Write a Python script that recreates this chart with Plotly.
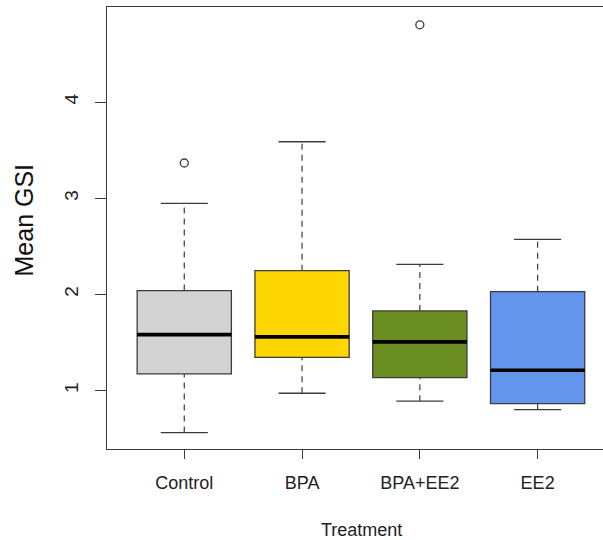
import plotly.graph_objects as go

# ---- data ----
categories = ["Control", "BPA", "BPA+EE2", "EE2"]
colors = ["#D3D3D3", "#FFD700", "#6B8E23", "#6495ED"]
lower_whisker = [0.563, 0.972, 0.889, 0.802]
q1 = [1.173, 1.346, 1.135, 0.865]
median = [1.582, 1.558, 1.506, 1.211]
q3 = [2.040, 2.247, 1.828, 2.029]
upper_whisker = [2.947, 3.588, 2.313, 2.573]
outlier_pos = [1, 3]
outlier_val = [3.367, 4.805]
y_ticks = [1, 2, 3, 4]

positions = list(range(1, len(categories) + 1))
BOXW = 0.8
LINE = "#3c3c3c"
FONT = "Liberation Sans, Arial, sans-serif"

fig = go.Figure()

# dashed whiskers
wx, wy = [], []
for p, lo, a, b, hi in zip(positions, lower_whisker, q1, q3, upper_whisker):
    wx += [p, p, None, p, p, None]
    wy += [lo, a, None, b, hi, None]
fig.add_trace(go.Scatter(x=wx, y=wy, mode="lines",
                         line=dict(color=LINE, width=1.2, dash="6px,5px"),
                         hoverinfo="skip", showlegend=False))
# whisker caps
cx, cy = [], []
for p, lo, hi in zip(positions, lower_whisker, upper_whisker):
    cx += [p - BOXW / 4, p + BOXW / 4, None, p - BOXW / 4, p + BOXW / 4, None]
    cy += [lo, lo, None, hi, hi, None]
fig.add_trace(go.Scatter(x=cx, y=cy, mode="lines",
                         line=dict(color=LINE, width=1.3),
                         hoverinfo="skip", showlegend=False))

# boxes
for p, name, c, a, m, b in zip(positions, categories, colors, q1, median, q3):
    fig.add_trace(go.Box(x=[p], q1=[a], median=[m], q3=[b],
                         lowerfence=[a], upperfence=[b],
                         width=BOXW, whiskerwidth=0, fillcolor=c,
                         line=dict(color=LINE, width=1.3),
                         name=name, showlegend=False, boxpoints=False))

# thick medians
mx, my = [], []
for p, m in zip(positions, median):
    mx += [p - BOXW / 2, p + BOXW / 2, None]
    my += [m, m, None]
fig.add_trace(go.Scatter(x=mx, y=my, mode="lines",
                         line=dict(color="black", width=3.7),
                         hoverinfo="skip", showlegend=False))

# outliers
fig.add_trace(go.Scatter(x=outlier_pos, y=outlier_val, mode="markers",
                         marker=dict(symbol="circle-open", size=8,
                                     color=LINE, line=dict(width=1.3)),
                         hoverinfo="skip", showlegend=False))

fig.update_layout(
    width=603, height=540,
    margin=dict(l=107, r=0, t=7, b=91),
    plot_bgcolor="white", paper_bgcolor="white",
    font=dict(family=FONT, color="#222222", size=18),
    showlegend=False,
    xaxis=dict(range=[0.344, 4.555], tickvals=positions, ticktext=categories,
               showgrid=False, zeroline=False,
               showline=True, mirror=True, linecolor=LINE, linewidth=1.3,
               ticks="outside", ticklen=9, tickcolor=LINE, tickwidth=1.3,
               ticklabelstandoff=8,
               tickfont=dict(size=18, family=FONT, color="#222222")),
    yaxis=dict(range=[0.392, 4.99], tickvals=y_ticks,
               showgrid=False, zeroline=False,
               showline=True, mirror=False, linecolor=LINE, linewidth=1.3,
               ticks="outside", ticklen=11, tickcolor=LINE, tickwidth=1.3,
               tickangle=-90, ticklabelstandoff=9,
               tickfont=dict(size=19, family=FONT, color="#222222")),
    annotations=[
        dict(text="Mean GSI", xref="paper", yref="paper",
             x=-(107 - 24) / 496, y=(449 - 220.5) / 442,
             xanchor="center", yanchor="middle", textangle=-90,
             showarrow=False, font=dict(size=25, family=FONT, color="#111111")),
        dict(text="Treatment", xref="paper", yref="paper",
             x=(361 - 107) / 496, y=-(530 - 449) / 442,
             xanchor="center", yanchor="middle",
             showarrow=False, font=dict(size=18, family=FONT, color="#222222")),
    ],
)

fig.write_html("out.html")
